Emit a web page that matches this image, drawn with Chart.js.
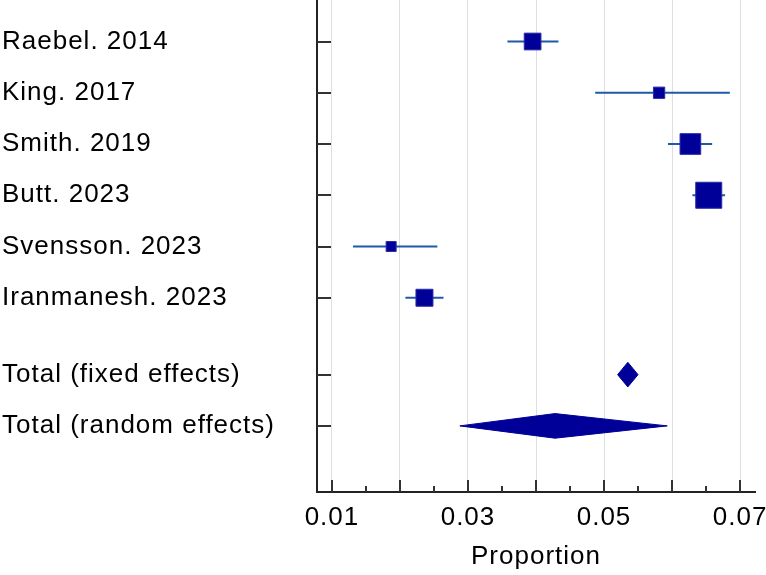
<!DOCTYPE html>
<html>
<head>
<meta charset="utf-8">
<script src="https://cdn.jsdelivr.net/npm/chart.js@4"></script>
<style>
  html, body { margin: 0; padding: 0; background: #fff; }
  #wrap { width: 766px; height: 575px; }
</style>
</head>
<body>
<div id="wrap"><canvas id="forest"></canvas></div>
<script>
// Estudos individuais
const studies = ['Raebel. 2014', 'King. 2017', 'Smith. 2019', 'Butt. 2023', 'Svensson. 2023', 'Iranmanesh. 2023'];
const estimates = [0.0395, 0.0581, 0.0627, 0.0654, 0.0187, 0.0236];
const lower = [0.0358, 0.0487, 0.0594, 0.0630, 0.0131, 0.0208];
const upper = [0.0433, 0.0685, 0.0659, 0.0678, 0.0255, 0.0264];
const weights = [14.7, 6.7, 22.5, 35.6, 5.3, 15.2]; // peso relativo (%)

// Totais
const totalLabels = ['Total (fixed effects)', 'Total (random effects)'];
const totalEst = [0.0535, 0.0428];
const totalLower = [0.0520, 0.0288];
const totalUpper = [0.0550, 0.0593];

// Eixo x
const xTicks = [0.01, 0.02, 0.03, 0.04, 0.05, 0.06, 0.07];
const xTickLabels = ['0.01', '', '0.03', '', '0.05', '', '0.07'];

const FONT = '"Liberation Sans", Arial, sans-serif';
const DIAMOND_HALF = 0.24;

const rowPos = studies.map((s, i) => i);
const totalPos = totalLabels.map((s, j) => studies.length + 0.5 + j);
const allLabels = studies.concat(totalLabels);
const allPos = rowPos.concat(totalPos);

const datasets = [];

// quadrados (tamanho pelo peso)
datasets.push({
  type: 'scatter',
  data: estimates.map((v, i) => ({ x: v, y: rowPos[i] })),
  pointStyle: 'rect',
  pointRadius: weights.map(w => 4.36 * Math.sqrt(w) / Math.SQRT2),
  pointHoverRadius: weights.map(w => 4.36 * Math.sqrt(w) / Math.SQRT2),
  backgroundColor: '#000099',
  borderColor: '#2b2ba8',
  borderWidth: 1,
  order: 0
});

// intervalos de confiança
studies.forEach((s, i) => {
  datasets.push({
    type: 'line',
    data: [{ x: lower[i], y: rowPos[i] }, { x: upper[i], y: rowPos[i] }],
    borderColor: '#1f5aa8',
    borderWidth: 2,
    pointRadius: 0,
    fill: false,
    order: 1
  });
});

// losangos dos totais
totalLabels.forEach((s, j) => {
  const y = totalPos[j];
  datasets.push({
    type: 'line',
    data: [
      { x: totalLower[j], y: y },
      { x: totalEst[j], y: y - DIAMOND_HALF },
      { x: totalUpper[j], y: y },
      { x: totalEst[j], y: y + DIAMOND_HALF },
      { x: totalLower[j], y: y }
    ],
    borderColor: '#000099',
    backgroundColor: '#000099',
    borderWidth: 1,
    pointRadius: 0,
    tension: 0,
    fill: 'shape',
    order: 0
  });
});

// marcas dos eixos para dentro
const tickMarks = {
  id: 'tickMarks',
  beforeDraw(chart) {
    chart.ctx.letterSpacing = '1px';
  },
  afterDraw(chart) {
    const ctx = chart.ctx;
    const xs = chart.scales.x, ys = chart.scales.y;
    const area = chart.chartArea;
    ctx.save();
    ctx.strokeStyle = '#333';
    ctx.lineWidth = 2;
    ctx.beginPath();
    allPos.forEach(p => {
      const py = Math.round(ys.getPixelForValue(p));
      ctx.moveTo(area.left, py);
      ctx.lineTo(area.left + 14, py);
    });
    xTicks.forEach((v, i) => {
      const px = Math.round(xs.getPixelForValue(v));
      ctx.moveTo(px, area.bottom);
      ctx.lineTo(px, area.bottom - 12);
      if (i < xTicks.length - 1) {
        const mx = Math.round(xs.getPixelForValue((v + xTicks[i + 1]) / 2));
        ctx.moveTo(mx, area.bottom);
        ctx.lineTo(mx, area.bottom - 6);
      }
    });
    ctx.stroke();
    ctx.restore();
  }
};

new Chart(document.getElementById('forest'), {
  data: { datasets: datasets },
  options: {
    responsive: true,
    maintainAspectRatio: false,
    animation: false,
    layout: { autoPadding: false, padding: { left: 2, right: 11, top: 0, bottom: 0 } },
    plugins: { legend: { display: false }, tooltip: { enabled: false } },
    scales: {
      x: {
        type: 'linear',
        min: 0.0078,
        max: 0.0722,
        afterBuildTicks: scale => { scale.ticks = xTicks.map(v => ({ value: v })); },
        afterFit: scale => { scale.height = 83; scale.paddingLeft = 0; scale.paddingRight = 0; },
        ticks: {
          autoSkip: false,
          maxRotation: 0,
          padding: 10,
          color: '#000',
          font: { family: FONT, size: 26 },
          callback: (v, i) => xTickLabels[i]
        },
        grid: { color: '#dedede', lineWidth: 1, drawTicks: false },
        border: { color: '#222', width: 2 },
        title: {
          display: true,
          text: 'Proportion',
          color: '#000',
          font: { family: FONT, size: 26 },
          padding: { top: 0, bottom: 3 }
        }
      },
      y: {
        type: 'linear',
        reverse: true,
        min: -0.81,
        max: 8.79,
        afterBuildTicks: scale => { scale.ticks = allPos.map(v => ({ value: v })); },
        afterFit: scale => { scale.width = 315; scale.paddingTop = 0; scale.paddingBottom = 0; },
        ticks: {
          autoSkip: false,
          crossAlign: 'far',
          color: '#000',
          font: { family: FONT, size: 26 },
          callback: (v, i) => allLabels[i]
        },
        grid: { display: false, drawTicks: false },
        border: { color: '#222', width: 2 }
      }
    }
  },
  plugins: [tickMarks]
});
</script>
</body>
</html>
